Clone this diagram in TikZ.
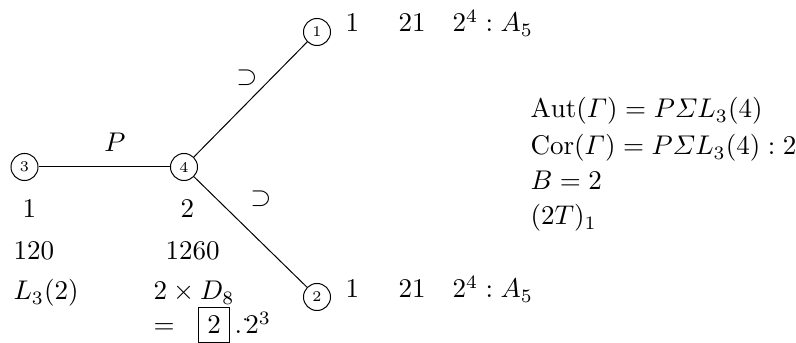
\documentclass[tikz,border=0pt]{standalone}
\usepackage{amsmath}
\begin{document}
\begin{tikzpicture}[x=0.37pt,y=-0.37pt,
  vert/.style={draw,circle,minimum size=10pt,inner sep=0pt,font=\fontsize{5.5}{6}\selectfont,line width=0.37pt},
  lbl/.style={anchor=base west,inner sep=0pt},
  clbl/.style={anchor=base,inner sep=0pt},
  edge/.style={line width=0.37pt}]
\useasboundingbox (0,0) rectangle (796,343);
% vertices
\node[vert] (n3) at (24.5,167) {3};
\node[vert] (n4) at (184,167) {4};
\node[vert] (n1) at (317,32) {1};
\node[vert] (n2) at (317,297) {2};
% edges
\draw[edge] (n3) -- (n4);
\draw[edge] (n4) -- (n1);
\draw[edge] (n4) -- (n2);
% edge labels
\node[clbl] (lp) at (115,152) {$P$};
\node[inner sep=0pt] (s1) at (247,78) {$\supset$};
\node[inner sep=0pt] (s2) at (261,199) {$\supset$};
% top row
\node[lbl] (t1) at (345,32) {$1$};
\node[lbl] (t2) at (398,32) {$21$};
\node[lbl] (t3) at (452,32) {$2^4:A_5$};
% bottom row
\node[lbl] (b1) at (345,298) {$1$};
\node[lbl] (b2) at (398,298) {$21$};
\node[lbl] (b3) at (452,298) {$2^4:A_5$};
% column under 3
\node[lbl] (c1a) at (22,218) {$1$};
\node[lbl] (c1b) at (13,260) {$120$};
\node[lbl] (c1c) at (13,300) {$L_3(2)$};
% column under 4
\node[lbl] (c2a) at (180,218) {$2$};
\node[lbl] (c2b) at (165,260) {$1260$};
\node[lbl] (c2c) at (153,300) {$2\times D_8$};
\node[lbl] (c2d) at (153,334) {$=\hspace{6pt}\fbox{$2$}\,{.}^{\cdot}\!2^3$};
% right text
\node[lbl] (r1) at (530,118) {$\mathrm{Aut}(\varGamma)=P\varSigma L_3(4)$};
\node[lbl] (r2) at (530,155) {$\mathrm{Cor}(\varGamma)=P\varSigma L_3(4):2$};
\node[lbl] (r3) at (530,190) {$B=2$};
\node[lbl] (r4) at (530,225) {$(2T)_1$};
\end{tikzpicture}
\end{document}
